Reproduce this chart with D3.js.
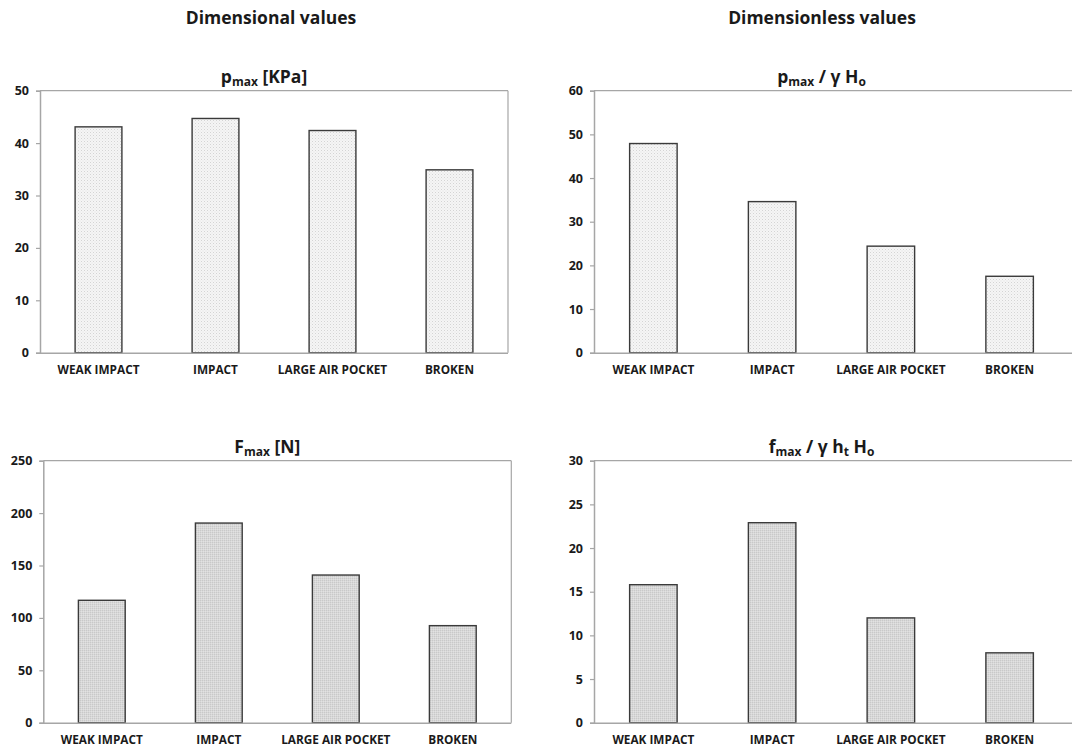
<!DOCTYPE html>
<html>
<head>
<meta charset="utf-8">
<script src="https://cdn.jsdelivr.net/npm/d3@7"></script>
<style>
  html, body { margin: 0; padding: 0; background: #fff; }
  svg { display: block; }
  text { font-family: "Open Sans", "Noto Sans", sans-serif; font-weight: bold; fill: #1a1a1a; }
</style>
</head>
<body>
<svg id="chart" width="1072" height="749"></svg>
<script>
// Wave impact categories
const categories = ["WEAK IMPACT", "IMPACT", "LARGE AIR POCKET", "BROKEN"];

// Peak pressure [KPa]
const pMax = [43.1, 44.7, 42.4, 34.9];
// Dimensionless peak pressure p_max / (gamma H_o)
const pMaxDimless = [47.9, 34.6, 24.4, 17.5];
// Peak force [N]
const fMax = [116.8, 190.5, 140.9, 92.6];
// Dimensionless peak force f_max / (gamma h_t H_o)
const fMaxDimless = [15.8, 22.9, 12.0, 8.0];

// Y tick values for each panel
const ticksPMax = [0, 10, 20, 30, 40, 50];
const ticksPMaxDimless = [0, 10, 20, 30, 40, 50, 60];
const ticksFMax = [0, 50, 100, 150, 200, 250];
const ticksFMaxDimless = [0, 5, 10, 15, 20, 25, 30];

const svg = d3.select("#chart");

// Texture fills: light dotted for pressures, denser grey for forces
const defs = svg.append("defs");
const dots = defs.append("pattern").attr("id", "dotFill")
  .attr("patternUnits", "userSpaceOnUse").attr("width", 3).attr("height", 3);
dots.append("rect").attr("width", 3).attr("height", 3).attr("fill", "#f5f5f5");
dots.append("rect").attr("x", 0).attr("y", 0).attr("width", 1).attr("height", 1).attr("fill", "#d4d4d4");
dots.append("rect").attr("x", 1.5).attr("y", 1.5).attr("width", 1).attr("height", 1).attr("fill", "#e4e4e4");

const grain = defs.append("pattern").attr("id", "greyFill")
  .attr("patternUnits", "userSpaceOnUse").attr("width", 2).attr("height", 2);
grain.append("rect").attr("width", 2).attr("height", 2).attr("fill", "#d8d8d8");
grain.append("rect").attr("x", 0).attr("y", 0).attr("width", 1).attr("height", 1).attr("fill", "#c9c9c9");
grain.append("rect").attr("x", 1).attr("y", 1).attr("width", 1).attr("height", 1).attr("fill", "#e2e2e2");

// Column headers
svg.append("text").attr("x", 271).attr("y", 24).attr("text-anchor", "middle")
  .style("font-size", "17.5px").text("Dimensional values");
svg.append("text").attr("x", 822).attr("y", 24).attr("text-anchor", "middle")
  .style("font-size", "17.5px").text("Dimensionless values");

const panels = [
  { values: pMax, ticks: ticksPMax, max: 50, fill: "url(#dotFill)",
    left: 40, right: 508, top: 90.7, bottom: 352.7, frameRight: true,
    title: [["p", false], ["max", true], [" [KPa]", false]] },
  { values: pMaxDimless, ticks: ticksPMaxDimless, max: 60, fill: "url(#dotFill)",
    left: 594, right: 1069, top: 90.7, bottom: 352.7, frameRight: false,
    title: [["p", false], ["max", true], [" / γ H", false], ["o", true]] },
  { values: fMax, ticks: ticksFMax, max: 250, fill: "url(#greyFill)",
    left: 43.3, right: 511.3, top: 460.7, bottom: 722.7, frameRight: true,
    title: [["F", false], ["max", true], [" [N]", false]] },
  { values: fMaxDimless, ticks: ticksFMaxDimless, max: 30, fill: "url(#greyFill)",
    left: 594, right: 1069, top: 460.7, bottom: 722.7, frameRight: false,
    title: [["f", false], ["max", true], [" / γ h", false], ["t", true], [" H", false], ["o", true]] }
];

panels.forEach(p => {
  const g = svg.append("g");
  const x = d3.scaleBand().domain(categories).range([p.left, p.right])
    .paddingInner(0.6).paddingOuter(0.3);
  const y = d3.scaleLinear().domain([0, p.max]).range([p.bottom, p.top]);

  // Plot frame (top and right edges)
  g.append("line").attr("x1", p.left).attr("x2", p.frameRight ? p.right : 1072)
    .attr("y1", p.top).attr("y2", p.top).attr("stroke", "#a6a6a6").attr("stroke-width", 1.2);
  if (p.frameRight) {
    g.append("line").attr("x1", p.right).attr("x2", p.right)
      .attr("y1", p.top).attr("y2", p.bottom).attr("stroke", "#a6a6a6").attr("stroke-width", 1.2);
  }

  // Bars
  g.selectAll("rect.bar").data(p.values).join("rect").attr("class", "bar")
    .attr("x", (d, i) => x(categories[i]))
    .attr("width", x.bandwidth())
    .attr("y", d => y(d))
    .attr("height", d => y(0) - y(d))
    .attr("fill", p.fill)
    .attr("stroke", "#3a3a3a").attr("stroke-width", 1.4);

  // Y axis
  const yAxis = g.append("g").attr("transform", `translate(${p.left},0)`)
    .call(d3.axisLeft(y).tickValues(p.ticks).tickSize(4).tickPadding(7).tickFormat(d3.format("d")));
  yAxis.select(".domain").attr("stroke", "#a6a6a6").attr("stroke-width", 1.5);
  yAxis.selectAll(".tick line").attr("stroke", "#a6a6a6").attr("stroke-width", 1.2);
  yAxis.selectAll(".tick text").style("font-size", "12.5px").attr("fill", "#1a1a1a");

  // X axis
  const xAxis = g.append("g").attr("transform", `translate(0,${p.bottom})`)
    .call(d3.axisBottom(x).tickSize(0).tickPadding(13));
  xAxis.select(".domain").attr("stroke", "#a6a6a6").attr("stroke-width", 1.5)
    .attr("d", `M${p.left},0.5H${p.frameRight ? p.right : 1072}`);
  xAxis.selectAll(".tick text").style("font-size", "11.8px").attr("fill", "#1a1a1a");

  // Panel title with subscripts
  const t = g.append("text").attr("x", (p.left + p.right) / 2 - 10).attr("y", p.top - 8)
    .attr("text-anchor", "middle").style("font-size", "17.5px");
  p.title.forEach(([s, sub]) => {
    const ts = t.append("tspan").text(s);
    if (sub) ts.attr("baseline-shift", "-28%").style("font-size", "12px");
  });
});

svg.selectAll(".tick text").style("font-family", "'Open Sans', 'Noto Sans', sans-serif");
</script>
</body>
</html>
